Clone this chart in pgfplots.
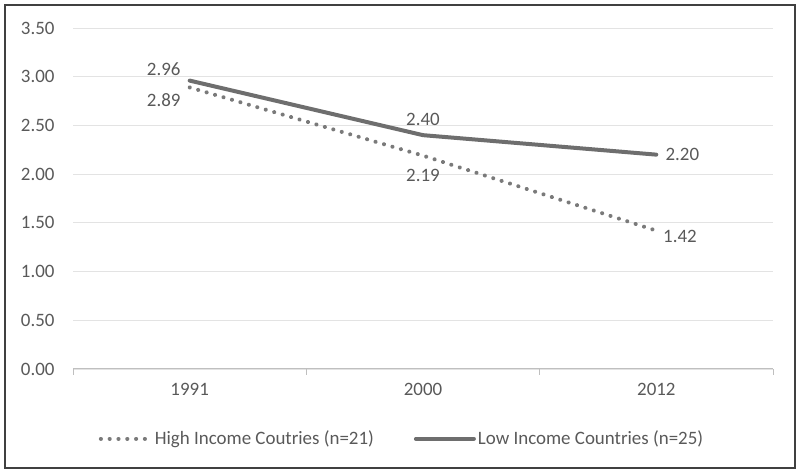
\documentclass[border=0pt]{standalone}
\usepackage{fontspec}
\setmainfont{Carlito}
\usepackage{pgfplots}
\pgfplotsset{compat=1.18}
\definecolor{txt}{HTML}{595959}
\definecolor{grd}{HTML}{E3E3E3}
\definecolor{ln}{HTML}{6E6E6E}
\definecolor{dt}{HTML}{7A7A7A}
\pgfplotsset{
  dotleg/.style={legend image code/.code={\draw[##1] (-4bp,0bp) -- (46bp,0bp);}},
  solleg/.style={legend image code/.code={\draw[##1] (0bp,0bp) -- (58bp,0bp);}},
}
\newcommand{\fs}{\fontsize{19}{22}\selectfont}
\begin{document}
\begin{tikzpicture}[x=1bp,y=1bp]
\path[use as bounding box] (0,0) rectangle (800,473);
\draw[line width=1.6bp, color=black!75] (5,5) rectangle (795,468);
\begin{axis}[
  at={(73bp,104bp)}, anchor=south west,
  scale only axis, width=700bp, height=341bp,
  xmin=-0.5, xmax=2.5, ymin=0, ymax=3.5,
  xtick={0,1,2}, xticklabels={1991,2000,2012},
  minor xtick={-0.5,0.5,1.5,2.5},
  ytick={0,0.5,...,3.5},
  yticklabel style={/pgf/number format/fixed, /pgf/number format/fixed zerofill, /pgf/number format/precision=2},
  /pgf/number format/assume math mode=true,
  tick label style={font=\fs, color=txt},
  yticklabel style={xshift=-15bp},
  xticklabel style={yshift=-11bp},
  major tick length=0pt,
  minor tick length=6bp,
  tick align=outside,
  axis x line*=bottom, axis y line*=left,
  y axis line style={draw=none},
  x axis line style={draw=black!25, line width=1bp},
  minor tick style={draw=black!25, line width=1bp},
  ymajorgrids, grid style={draw=grd, line width=0.8bp},
  legend style={at={(0.47,-0.17)}, anchor=north, draw=none, fill=none,
    legend columns=2, font=\fs, text=txt,
    /tikz/every even column/.append style={column sep=38bp}},
  legend cell align=left,
  clip=false,
]
\addplot[color=dt, line width=4bp, line cap=round, dash pattern=on 0.1bp off 8.7bp, dotleg]
  coordinates {(0,2.89) (1,2.19) (2,1.42)};
\addlegendentry{High Income Coutries (n=21)}
\addplot[color=ln, line width=4bp, line cap=round, line join=round, solleg]
  coordinates {(0,2.96) (1,2.40) (2,2.20)};
\addlegendentry{Low Income Countries (n=25)}
\begin{scope}[every node/.style={font=\fs, text=txt, inner sep=2bp}]
\node[anchor=south east] at (axis cs:-0.03,2.99) {2.96};
\node[anchor=north east] at (axis cs:-0.03,2.85) {2.89};
\node[anchor=south] at (axis cs:1,2.48) {2.40};
\node[anchor=north] at (axis cs:1,2.07) {2.19};
\node[anchor=west] at (axis cs:2.03,2.20) {2.20};
\node[anchor=north west] at (axis cs:2.02,1.45) {1.42};
\end{scope}
\end{axis}
\end{tikzpicture}
\end{document}
